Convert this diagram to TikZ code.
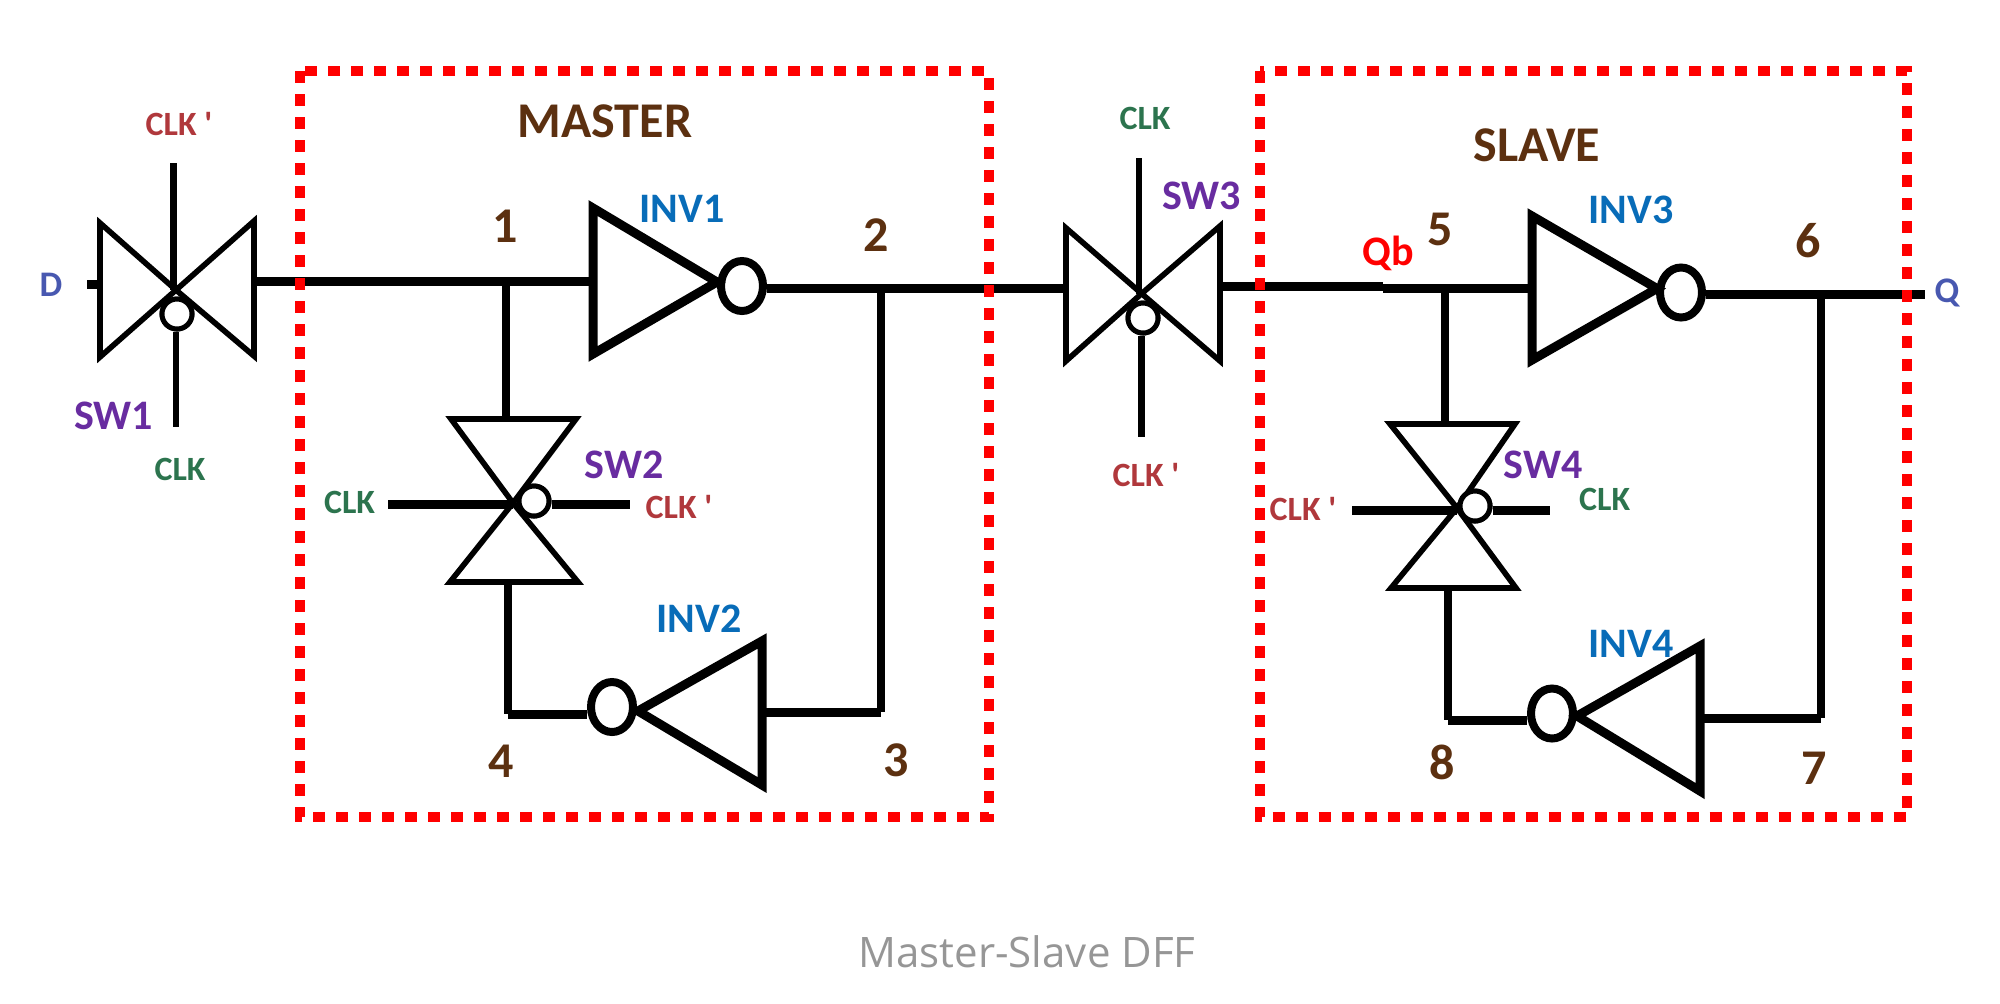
\documentclass[tikz,border=0pt]{standalone}
\usepackage{fontspec}
\setmainfont{Carlito}
\newfontfamily\capfont{Open Sans}
\newfontfamily\clkfont{Carlito}
\usetikzlibrary{positioning,shapes.geometric}
\definecolor{boxred}{RGB}{255,0,0}
\definecolor{titlebrown}{RGB}{92,48,16}
\definecolor{invblue}{RGB}{8,108,184}
\definecolor{swpurple}{RGB}{104,44,160}
\definecolor{clkgreen}{RGB}{44,116,78}
\definecolor{clkred}{RGB}{176,56,60}
\definecolor{iopin}{RGB}{72,88,176}
\definecolor{capgrey}{RGB}{150,150,150}

\begin{document}
\begin{tikzpicture}[x=0.5pt,y=-0.5pt,
	wire/.style={black,line width=4.5pt},
	vwire/.style={black,line width=4pt},
	gateline/.style={black,line width=3.2pt},
	hgateline/.style={black,line width=4.5pt},
	invtri/.style={black,line width=4.5pt},
	swtri/.style={black,line width=2.8pt},
	invbub/.style={draw=black,fill=white,line width=4pt,ellipse,inner sep=0pt,minimum width=21pt,minimum height=25pt},
	swbub/.style={draw=black,fill=white,line width=2.5pt,ellipse,inner sep=0pt,minimum width=15pt,minimum height=15pt},
	redbox/.style={boxred,line width=5pt,dash pattern=on 6pt off 5.5pt},
	title/.style={text=titlebrown,font=\fontsize{25}{25}\selectfont\bfseries,inner sep=0pt},
	invlbl/.style={text=invblue,font=\fontsize{21}{21}\selectfont\bfseries,inner sep=0pt},
	swlbl/.style={text=swpurple,font=\fontsize{21}{21}\selectfont\bfseries,inner sep=0pt},
	clklbl/.style={text=clkgreen,font=\fontsize{17}{17}\selectfont\bfseries,inner sep=0pt},
	clkblbl/.style={text=clkred,font=\clkfont\fontsize{17}{17}\selectfont\bfseries,inner sep=0pt},
	iolbl/.style={text=iopin,font=\fontsize{18}{18}\selectfont\bfseries,inner sep=0pt}]
	\useasboundingbox (0,0) rectangle (2000,1003);
	% SW1
	\coordinate (swa) at (176,290);
	\coordinate (swaL) at (100,284);
	\coordinate (swaR) at (254,281);
	\coordinate (swaT) at (173.5,163);
	\coordinate (swaB) at (176,427);
	\coordinate (dpin) at (87,284);
	\node [swbub] (buba) at (177,314) {};
	\draw [gateline] (swaT) -- (swaT |- swa);
	\draw [gateline] (swaB |- buba.south) -- (swaB);
	\draw [swtri] (100,223) -- (swa) -- (100,357) -- cycle;
	\draw [swtri] (254,221) -- (swa) -- (254,356) -- cycle;
	\node [swbub] (buba) at (177,314) {};
	\draw [wire] (dpin) -- (swaL);
	% INV1
	\coordinate (inaL) at (593,281);
	\coordinate (inaT) at (717,282);
	\node [invbub] (bubina) at (742,286) {};
	\draw [invtri] (593,208) -- (inaT) -- (593,354) -- cycle;
	\coordinate (ja) at (506,281);
	\draw [wire] (swaR) -- (inaL);
	% SW2
	\coordinate (swb) at (513,503);
	\coordinate (swbT) at (506,419);
	\coordinate (swbB) at (508,582);
	\coordinate (swbL) at (388,504);
	\coordinate (swbR) at (630,504);
	\node [swbub] (bubb) at (534,501) {};
	\draw [hgateline] (swbL) -- (swb |- swbL);
	\draw [hgateline] (bubb.east |- swbR) -- (swbR);
	\draw [swtri] (451,419) -- (576,419) -- (swb) -- cycle;
	\draw [swtri] (450,582) -- (578,582) -- (swb) -- cycle;
	\node [swbub] (bubb) at (534,501) {};
	\draw [vwire] (ja) -- (swbT);
	% INV2
	\coordinate (inbR) at (762,712);
	\coordinate (inbT) at (638,711);
	\coordinate (jb) at (881,712);
	\coordinate (jc) at (881,288);
	\coordinate (jd) at (508,714);
	\node [invbub] (bubinb) at (612,707) {};
	\draw [invtri] (762,641) -- (inbT) -- (762,785) -- cycle;
	\draw [vwire] (swbB) -- (jd);
	\draw [wire] (jd) -- (bubinb.west |- jd);
	\draw [wire] (inbR) -- (jb);
	\draw [vwire] (jb) -- (jc);
	% SW3
	\coordinate (swc) at (1141.6,293.6);
	\coordinate (swcL) at (1066,288);
	\coordinate (swcR) at (1220,286);
	\coordinate (swcT) at (1139,158);
	\coordinate (swcB) at (1141.6,437);
	\node [swbub] (bubc) at (1143,318) {};
	\draw [gateline] (swcT) -- (swcT |- swc);
	\draw [gateline] (swcB |- bubc.south) -- (swcB);
	\draw [swtri] (1066,228) -- (swc) -- (1066,361) -- cycle;
	\draw [swtri] (1220,226) -- (swc) -- (1220,361) -- cycle;
	\node [swbub] (bubc) at (1143,318) {};
	\draw [wire] (bubina.east |- jc) -- (swcL);
	% INV3
	\coordinate (incL) at (1532,288);
	\coordinate (incT) at (1657,288.5);
	\coordinate (je) at (1445,288);
	\coordinate (jm) at (1383,286);
	\coordinate (qpin) at (1925,294);
	\coordinate (jf) at (1821,294);
	\node [invbub] (bubinc) at (1681,292.5) {};
	\draw [invtri] (1532,216) -- (incT) -- (1532,360) -- cycle;
	\draw [wire] (swcR) -- (jm);
	\draw [wire] (jm |- incL) -- (incL);
	\draw [wire] (bubinc.east |- qpin) -- (qpin);
	% SW4
	\coordinate (swd) at (1457,508);
	\coordinate (swdT) at (1445,424);
	\coordinate (swdB) at (1448,588);
	\coordinate (swdL) at (1352,510);
	\coordinate (swdR) at (1550,510);
	\node [swbub] (bubd) at (1475,506) {};
	\draw [hgateline] (swdL) -- (swd |- swdL);
	\draw [hgateline] (bubd.east |- swdR) -- (swdR);
	\draw [swtri] (1390,424) -- (1515,424) -- (swd) -- cycle;
	\draw [swtri] (1391,588) -- (1516,588) -- (swd) -- cycle;
	\node [swbub] (bubd) at (1475,506) {};
	\draw [vwire] (je) -- (swdT);
	% INV4
	\coordinate (indR) at (1700,718);
	\coordinate (indT) at (1577,716);
	\coordinate (jg) at (1821,718);
	\coordinate (jh) at (1448,720);
	\node [invbub] (bubind) at (1552,713.5) {};
	\draw [invtri] (1700,646) -- (indT) -- (1700,791) -- cycle;
	\draw [vwire] (swdB) -- (jh);
	\draw [wire] (jh) -- (bubind.west |- jh);
	\draw [wire] (indR) -- (jg);
	\draw [vwire] (jg) -- (jf);
	% boxes
	\coordinate (mtl) at (300,71);
	\coordinate (mbr) at (988.5,817);
	\coordinate (stl) at (1259.5,71);
	\coordinate (sbr) at (1907,817);
	\draw [redbox] (mtl) rectangle (mbr);
	\draw [redbox] (stl) rectangle (sbr);
	% labels
	\node [title] (mastertxt) at (605,121) {MASTER};
	\node [title] (slavetxt) at (1537,145) {SLAVE};
	\node [title] (na) at (505,226) {1};
	\node [title] (nb) at (876,235) {2};
	\node [title] (nc) at (896,760) {3};
	\node [title] (nd) at (501,761) {4};
	\node [title] (ne) at (1440,229) {5};
	\node [title] (nf) at (1808,241) {6};
	\node [title] (ng) at (1814,768) {7};
	\node [title] (nh) at (1442,762) {8};
	\node [invlbl] (inva) at (682,209) {INV1};
	\node [invlbl] (invb) at (699,619) {INV2};
	\node [invlbl] (invc) at (1631,210) {INV3};
	\node [invlbl] (invd) at (1631,644) {INV4};
	\node [swlbl] (sa) at (113.5,416) {SW1};
	\node [swlbl] (sb) at (624,465) {SW2};
	\node [swlbl] (sc) at (1201.5,196) {SW3};
	\node [swlbl] (sd) at (1543,465) {SW4};
	\node [clkblbl] (cka) at (179,124) {CLK '};
	\node [clklbl] (ckb) at (180,469) {CLK};
	\node [clklbl] (ckc) at (349.5,502) {CLK};
	\node [clkblbl] (ckd) at (679,507) {CLK '};
	\node [clklbl] (cke) at (1145,118) {CLK};
	\node [clkblbl] (ckf) at (1146,475) {CLK '};
	\node [clkblbl] (ckg) at (1303,509) {CLK '};
	\node [clklbl] (ckh) at (1604.6,499) {CLK};
	\node [iolbl] (dtxt) at (51,285) {D};
	\node [iolbl] (qtxt) at (1947,292.5) {Q};
	\node [inner sep=0pt,text=red,font=\fontsize{21}{21}\selectfont\bfseries] (qbtxt) at (1388,253) {Qb};
	\node [inner sep=0pt,text=capgrey,font=\capfont\fontsize{21}{21}\selectfont] (captxt) at (1027,951.5) {Master-Slave DFF};
\end{tikzpicture}
\end{document}
